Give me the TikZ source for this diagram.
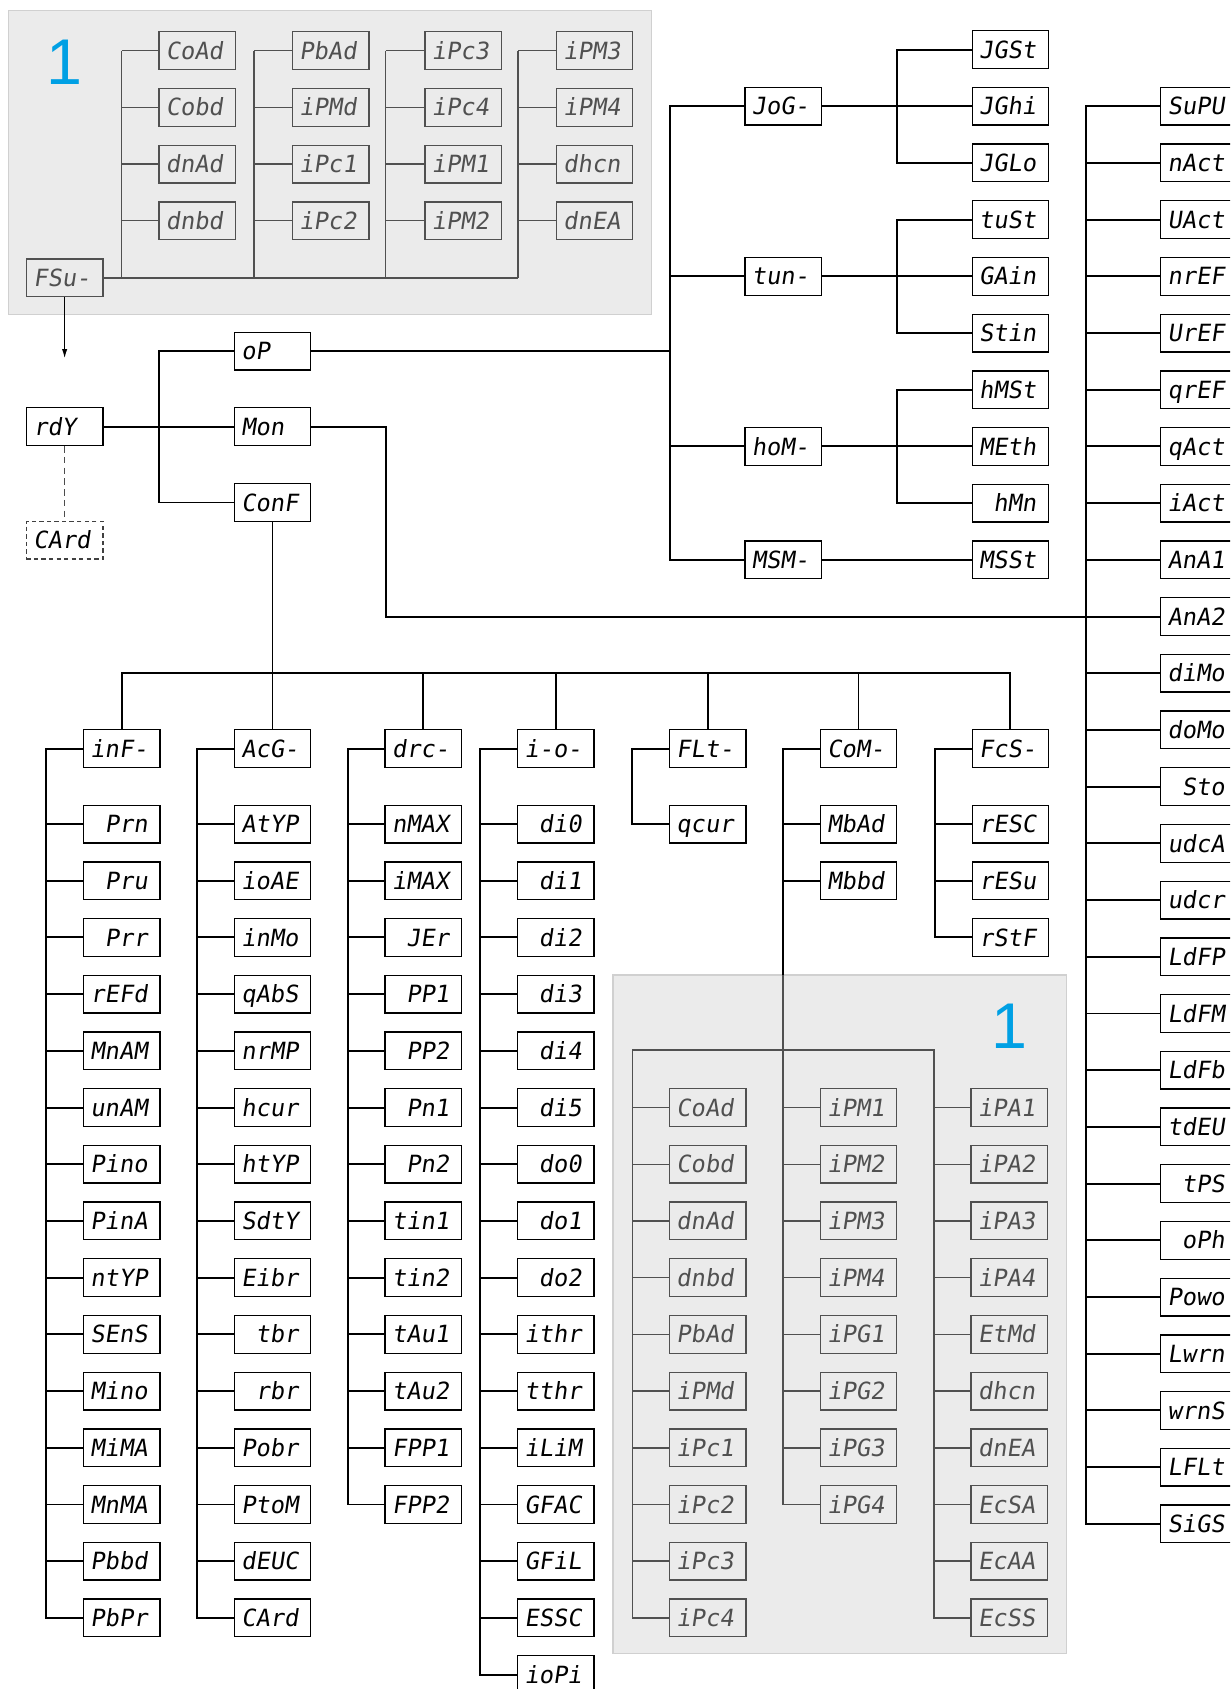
\documentclass[tikz,border=0pt]{standalone}
\usepackage{fontspec}
\setsansfont{Liberation Sans}
\newfontfamily\segfont[FakeSlant=0.15]{DejaVu Sans Mono}
\usetikzlibrary{arrows.meta}
\definecolor{grayfill}{HTML}{EBEBEB}
\definecolor{grayedge}{HTML}{D0D0D0}
\definecolor{grayline}{HTML}{505050}
\definecolor{numblue}{HTML}{00A0E4}
\newcommand\blk{\phantom{0}}
\newcommand\seg[1]{\makebox[58pt][l]{#1}}
\tikzset{
 lcd/.style={draw=black, fill=white, line width=1.2pt, minimum width=71pt, minimum height=35pt, inner sep=0pt, text height=16pt, text depth=0pt, font=\segfont\fontsize{22}{22}\selectfont, text=black},
 glcd/.style={lcd, draw=grayline, fill=grayfill, text=grayline},
 dlcd/.style={lcd, draw=black!75, dash pattern=on 4pt off 3pt},
 wire/.style={line width=1.8pt, draw=black},
 gwire/.style={line width=1.4pt, draw=grayline},
 dwire/.style={line width=1.2pt, draw=black!70, dash pattern=on 6pt off 4pt},
 bignum/.style={font=\sffamily\fontsize{60}{60}\selectfont, text=numblue, inner sep=0pt},
 panel/.style={fill=grayfill, draw=grayedge, line width=1.3pt},
}
\begin{document}
\begin{tikzpicture}[x=1pt,y=-1pt]
\useasboundingbox (0,0) rectangle (1142,1568);
\clip (0,0) rectangle (1142,1568);
% panels
\filldraw[panel] (8,10) rectangle (605,292);
\filldraw[panel] (569,905) rectangle (990,1535);
\node[bignum] (num1) at (60,58) {1};
\node[bignum] (num2) at (937,953) {1};
% bus coordinates
\coordinate (xta) at (113,0);
\coordinate (xtb) at (236,0);
\coordinate (xtc) at (358,0);
\coordinate (xtd) at (481,0);
\coordinate (xb1) at (148,0);
\coordinate (xb2) at (622,0);
\coordinate (xb3) at (833,0);
\coordinate (xrb) at (1008,0);
\coordinate (xmon) at (358,0);
\coordinate (ybus) at (0,625);
\coordinate (xi) at (43,0);
\coordinate (xa) at (183,0);
\coordinate (xd) at (323,0);
\coordinate (xo) at (446,0);
\coordinate (xf) at (587,0);
\coordinate (xc) at (727,0);
\coordinate (xs) at (868,0);
\coordinate (xg1) at (587,0);
\coordinate (xg3) at (867,0);
\coordinate (yg) at (0,975);
\coordinate (ygray) at (0,905);
\coordinate (arrtip) at (60,333);
% ---------- top gray panel ----------
\node[glcd] (FSu) at (60,258) {\seg{FSu-}};
\foreach \lbl [count=\i from 0] in {CoAd,Cobd,dnAd,dnbd}
  \node[glcd] (ta\i) at (183,{47+52.64*\i}) {\seg{\lbl}};
\foreach \lbl [count=\i from 0] in {PbAd,iPMd,iPc1,iPc2}
  \node[glcd] (tb\i) at (307,{47+52.64*\i}) {\seg{\lbl}};
\foreach \lbl [count=\i from 0] in {iPc3,iPc4,iPM1,iPM2}
  \node[glcd] (tc\i) at (430,{47+52.64*\i}) {\seg{\lbl}};
\foreach \lbl [count=\i from 0] in {iPM3,iPM4,dhcn,dnEA}
  \node[glcd] (td\i) at (552,{47+52.64*\i}) {\seg{\lbl}};
\foreach \c in {ta,tb,tc,td}{
  \foreach \i in {0,...,3} \draw[gwire] (\c\i.west) -- (\c\i.west -| x\c);
  \draw[gwire] (\c0.west -| x\c) -- (x\c |- FSu.east);
}
\draw[gwire] (FSu.east) -- (FSu.east -| xtd);
\draw[wire, line width=1.4pt, -{Latex[length=9pt,width=5pt]}] (FSu.south) -- (arrtip);
% ---------- rdY and first level ----------
\node[lcd] (rdY) at (60,396) {\seg{rdY}};
\node[dlcd] (CArd0) at (60,501.5) {\seg{CArd}};
\node[lcd] (oP) at (253,326) {\seg{oP}};
\node[lcd] (Mon) at (253,396) {\seg{Mon}};
\node[lcd] (ConF) at (253,466.5) {\seg{ConF}};
\draw[dwire] (rdY.south) -- (CArd0.north);
\draw[wire] (rdY.east) -- (Mon.west);
\draw[wire] (oP.west) -- (oP.west -| xb1) -- (ConF.west -| xb1) -- (ConF.west);
% ---------- oP subtree ----------
\node[lcd] (JoG) at (727,{46+52.64*1}) {\seg{JoG-}};
\node[lcd] (tun) at (727,{46+52.64*4}) {\seg{tun-}};
\node[lcd] (hoM) at (727,{46+52.64*7}) {\seg{hoM-}};
\node[lcd] (MSM) at (727,{46+52.64*9}) {\seg{MSM-}};
\foreach \lbl [count=\i from 0] in {JGSt,JGhi,JGLo,tuSt,GAin,Stin,hMSt,MEth,\blk hMn,MSSt}
  \node[lcd] (m\i) at (938,{46+52.64*\i}) {\seg{\lbl}};
\draw[wire] (oP.east) -- (oP.east -| xb2);
\draw[wire] (JoG.west) -- (JoG.west -| xb2) -- (MSM.west -| xb2) -- (MSM.west);
\draw[wire] (tun.west) -- (tun.west -| xb2);
\draw[wire] (hoM.west) -- (hoM.west -| xb2);
\draw[wire] (JoG.east) -- (m1.west);
\draw[wire] (tun.east) -- (m4.west);
\draw[wire] (hoM.east) -- (m7.west);
\draw[wire] (MSM.east) -- (m9.west);
\draw[wire] (m0.west) -- (m0.west -| xb3) -- (m2.west -| xb3) -- (m2.west);
\draw[wire] (m3.west) -- (m3.west -| xb3) -- (m5.west -| xb3) -- (m5.west);
\draw[wire] (m6.west) -- (m6.west -| xb3) -- (m8.west -| xb3) -- (m8.west);
% ---------- Mon subtree (right column) ----------
\foreach \lbl [count=\i] in {SuPU,nAct,UAct,nrEF,UrEF,qrEF,qAct,iAct,AnA1,AnA2,diMo,doMo,\blk Sto,udcA,udcr,LdFP,LdFM,LdFb,tdEU,\blk tPS,\blk oPh,Powo,Lwrn,wrnS,LFLt,SiGS}
  \node[lcd] (r\i) at (1113,{46+52.64*\i}) {\seg{\lbl}};
\draw[wire] (r1.west) -- (r1.west -| xrb) -- (r26.west -| xrb) -- (r26.west);
\foreach \i in {2,...,25} \draw[wire] (r\i.west) -- (r\i.west -| xrb);
\draw[wire] (Mon.east) -- (Mon.east -| xmon) -- (r10.west -| xmon) -- (r10.west -| xrb);
% ---------- ConF subtree ----------
\node[lcd] (gi) at (113,695) {\seg{inF-}};
\node[lcd] (ga) at (253,695) {\seg{AcG-}};
\node[lcd] (gd) at (393,695) {\seg{drc-}};
\node[lcd] (go) at (516,695) {\seg{i-o-}};
\node[lcd] (gf) at (657,695) {\seg{FLt-}};
\node[lcd] (gc) at (797,695) {\seg{CoM-}};
\node[lcd] (gs) at (938,695) {\seg{FcS-}};
\draw[wire] (ConF.south) -- (ConF.south |- ybus);
\draw[wire] (gi.north) -- (gi.north |- ybus) -- (gs.north |- ybus) -- (gs.north);
\foreach \g in {ga,gd,go,gf,gc} \draw[wire] (\g.north) -- (\g.north |- ybus);
% inF-
\foreach \lbl [count=\i] in {\blk Prn,\blk Pru,\blk Prr,rEFd,MnAM,unAM,Pino,PinA,ntYP,SEnS,Mino,MiMA,MnMA,Pbbd,PbPr}
  \node[lcd] (i\i) at (113,{765+52.64*(\i-1)}) {\seg{\lbl}};
\draw[wire] (gi.west) -- (gi.west -| xi) -- (i15.west -| xi) -- (i15.west);
\foreach \i in {1,...,14} \draw[wire] (i\i.west) -- (i\i.west -| xi);
% AcG-
\foreach \lbl [count=\i] in {AtYP,ioAE,inMo,qAbS,nrMP,hcur,htYP,SdtY,Eibr,\blk tbr,\blk rbr,Pobr,PtoM,dEUC,CArd}
  \node[lcd] (a\i) at (253,{765+52.64*(\i-1)}) {\seg{\lbl}};
\draw[wire] (ga.west) -- (ga.west -| xa) -- (a15.west -| xa) -- (a15.west);
\foreach \i in {1,...,14} \draw[wire] (a\i.west) -- (a\i.west -| xa);
% drc-
\foreach \lbl [count=\i] in {nMAX,iMAX,\blk JEr,\blk PP1,\blk PP2,\blk Pn1,\blk Pn2,tin1,tin2,tAu1,tAu2,FPP1,FPP2}
  \node[lcd] (d\i) at (393,{765+52.64*(\i-1)}) {\seg{\lbl}};
\draw[wire] (gd.west) -- (gd.west -| xd) -- (d13.west -| xd) -- (d13.west);
\foreach \i in {1,...,12} \draw[wire] (d\i.west) -- (d\i.west -| xd);
% i-o-
\foreach \lbl [count=\i] in {\blk di0,\blk di1,\blk di2,\blk di3,\blk di4,\blk di5,\blk do0,\blk do1,\blk do2,ithr,tthr,iLiM,GFAC,GFiL,ESSC,ioPi}
  \node[lcd] (o\i) at (516,{765+52.64*(\i-1)}) {\seg{\lbl}};
\draw[wire] (go.west) -- (go.west -| xo) -- (o16.west -| xo) -- (o16.west);
\foreach \i in {1,...,15} \draw[wire] (o\i.west) -- (o\i.west -| xo);
% FLt-
\node[lcd] (f1) at (657,765) {\seg{qcur}};
\draw[wire] (gf.west) -- (gf.west -| xf) -- (f1.west -| xf) -- (f1.west);
% CoM-
\node[lcd] (c1) at (797,765) {\seg{MbAd}};
\node[lcd] (c2) at (797,{765+52.64}) {\seg{Mbbd}};
\draw[wire] (gc.west) -- (gc.west -| xc) -- (xc |- ygray);
\draw[wire] (c1.west) -- (c1.west -| xc);
\draw[wire] (c2.west) -- (c2.west -| xc);
% FcS-
\foreach \lbl [count=\i] in {rESC,rESu,rStF}
  \node[lcd] (s\i) at (938,{765+52.64*(\i-1)}) {\seg{\lbl}};
\draw[wire] (gs.west) -- (gs.west -| xs) -- (s3.west -| xs) -- (s3.west);
\foreach \i in {1,2} \draw[wire] (s\i.west) -- (s\i.west -| xs);
% ---------- lower gray panel ----------
\foreach \lbl [count=\i] in {CoAd,Cobd,dnAd,dnbd,PbAd,iPMd,iPc1,iPc2,iPc3,iPc4}
  \node[glcd] (p\i) at (657,{765+52.64*(\i+4)}) {\seg{\lbl}};
\foreach \lbl [count=\i] in {iPM1,iPM2,iPM3,iPM4,iPG1,iPG2,iPG3,iPG4}
  \node[glcd] (q\i) at (797,{765+52.64*(\i+4)}) {\seg{\lbl}};
\foreach \lbl [count=\i] in {iPA1,iPA2,iPA3,iPA4,EtMd,dhcn,dnEA,EcSA,EcAA,EcSS}
  \node[glcd] (u\i) at (937,{765+52.64*(\i+4)}) {\seg{\lbl}};
\draw[gwire] (xc |- ygray) -- (q8.west -| xc) -- (q8.west);
\foreach \i in {1,...,7} \draw[gwire] (q\i.west) -- (q\i.west -| xc);
\draw[gwire] (p10.west) -- (p10.west -| xg1) -- (xg1 |- yg) -- (xg3 |- yg) -- (u10.west -| xg3) -- (u10.west);
\foreach \i in {1,...,9} \draw[gwire] (p\i.west) -- (p\i.west -| xg1);
\foreach \i in {1,...,9} \draw[gwire] (u\i.west) -- (u\i.west -| xg3);
\end{tikzpicture}
\end{document}
